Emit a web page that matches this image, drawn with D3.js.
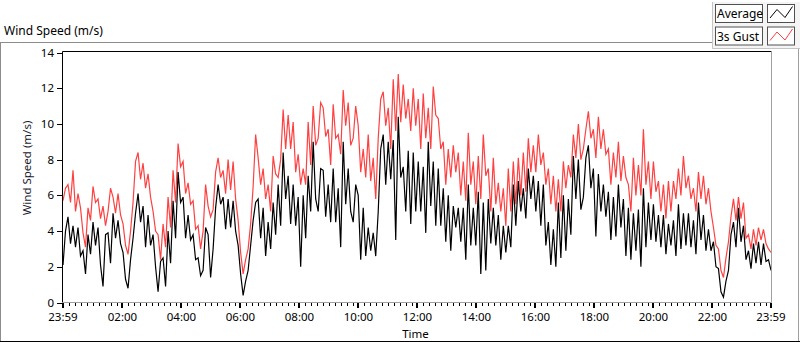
<!DOCTYPE html>
<html>
<head>
<meta charset="utf-8">
<script src="https://cdn.jsdelivr.net/npm/d3@7"></script>
<style>
body { margin: 0; background: #fff; }
text { font-family: "Noto Sans", "Liberation Sans", sans-serif; fill: #000; }
</style>
</head>
<body>
<div id="content"></div>
<script>

//data: 5 minute samples over the day
var gust = [
  5.7,6.4,6.6,5.6,7.4,5.1,6.1,5.3,3.9,3.1,5.3,4.6,6.5,5.6,5.8,4.7,5.4,4.3,5.1,6.4,5.9,5.0,6.1,4.9,
  4.4,3.2,2.7,4.0,5.6,7.9,8.4,6.9,7.8,6.4,7.2,5.9,5.1,4.0,3.8,2.4,4.4,3.1,5.9,4.2,7.4,5.6,8.9,7.6,
  7.9,6.1,6.7,5.5,5.7,4.1,4.3,3.0,4.0,6.6,5.4,4.8,5.2,7.3,8.1,7.0,7.4,6.1,8.0,6.3,7.9,5.8,4.6,2.8,
  1.6,2.4,3.0,4.4,6.5,9.4,8.1,6.6,7.5,5.8,6.6,5.1,8.2,7.2,7.0,8.0,10.8,8.6,10.5,8.6,10.1,7.3,8.3,6.6,
  7.5,6.6,10.1,7.7,11.0,8.8,9.2,11.2,10.9,9.3,9.7,7.7,11.1,9.2,9.4,8.3,11.9,9.9,11.2,8.8,9.2,11.0,9.9,7.3,
  8.6,7.0,9.4,6.8,8.1,5.8,9.2,11.4,11.8,9.9,10.9,8.6,12.5,9.6,12.8,10.1,12.2,10.3,11.4,9.6,12.0,9.9,11.4,8.6,
  11.7,9.2,10.9,8.6,12.1,10.5,10.3,8.6,9.0,6.6,8.6,7.0,8.8,7.3,8.4,6.0,7.9,5.7,9.5,6.6,7.9,5.5,8.2,5.8,
  9.4,7.1,7.5,5.1,8.1,5.5,6.7,5.1,6.4,4.3,7.5,5.1,7.9,5.5,8.1,6.0,8.4,6.2,9.2,7.3,8.8,7.3,9.4,7.7,
  8.4,6.6,7.5,5.5,7.1,5.1,6.9,5.1,7.9,6.4,7.7,7.0,9.4,8.1,10.0,8.0,8.6,9.7,10.7,9.2,9.7,8.1,10.4,8.6,
  9.7,8.3,8.6,6.6,8.4,7.0,9.0,6.8,8.2,7.0,6.6,5.1,8.1,6.0,7.7,6.0,9.7,6.6,7.9,5.8,7.9,6.2,6.8,5.1,
  6.6,4.7,6.8,5.1,6.8,5.8,7.5,6.0,8.2,6.4,7.1,5.8,6.4,5.1,7.3,5.8,7.1,5.5,6.4,5.1,4.2,3.2,3.0,1.8,
  1.4,2.5,3.4,4.8,5.8,4.6,5.9,4.7,5.6,3.6,3.8,3.0,4.1,3.2,4.2,3.5,4.1,3.3,3.0,2.8
];
var average = [
  2.1,4.0,4.8,3.3,4.3,3.1,4.2,2.6,2.9,1.6,3.8,2.7,4.5,3.2,4.2,2.1,0.9,3.8,3.9,2.2,5.0,3.6,4.6,3.3,
  2.8,1.3,0.8,2.4,3.6,5.0,6.1,4.5,5.4,3.1,4.9,3.2,3.8,2.0,0.6,2.3,2.5,0.9,4.0,2.2,5.7,3.6,7.3,5.6,
  5.9,3.6,4.9,3.5,3.8,2.4,2.5,1.5,1.8,4.2,3.8,1.4,3.0,5.3,6.6,5.5,5.9,4.1,5.8,4.2,5.7,4.0,3.2,1.6,
  0.4,1.2,1.8,3.2,4.6,5.6,5.8,3.6,5.3,2.6,4.5,3.0,5.6,3.8,6.6,4.3,8.4,5.8,7.1,4.4,6.6,4.3,5.9,2.0,
  6.0,3.6,7.1,5.1,9.0,5.8,5.1,7.5,7.4,4.8,6.6,4.5,7.5,4.5,6.4,3.1,9.0,5.5,7.5,5.1,4.5,6.6,6.0,2.4,
  5.3,2.6,4.2,2.9,3.9,2.6,5.1,8.6,9.4,6.6,9.0,6.9,9.1,3.5,10.4,7.0,7.6,5.1,8.5,4.4,8.4,5.1,7.9,5.1,
  7.6,3.9,9.0,5.4,7.9,4.3,7.5,4.3,6.4,3.4,6.0,2.9,5.4,4.2,5.3,3.4,5.3,2.4,6.6,3.2,5.3,3.2,6.2,1.6,
  5.6,1.8,5.8,3.3,5.3,3.2,4.9,2.4,4.3,2.8,4.3,3.1,6.6,4.3,6.8,5.1,6.4,4.7,7.5,5.8,7.1,5.1,6.8,4.3,
  6.6,3.2,4.5,2.1,4.1,2.0,5.6,2.5,6.0,2.9,5.8,3.8,8.2,5.8,8.0,5.2,5.9,8.1,8.8,6.4,7.5,3.7,7.2,5.1,
  6.6,4.8,6.2,3.5,5.9,3.7,6.6,4.2,5.8,2.6,5.3,2.4,5.0,2.9,5.2,2.0,6.4,3.1,5.6,3.5,5.5,3.4,4.9,3.1,
  4.9,2.7,4.4,3.2,4.6,2.6,5.5,3.0,5.0,3.2,5.0,3.1,4.6,2.7,5.6,3.5,4.9,2.9,4.1,2.9,3.4,2.0,1.9,0.6,
  0.3,1.2,1.8,3.8,4.5,3.1,5.3,3.4,4.3,2.4,2.9,1.9,3.3,2.2,3.4,2.1,3.3,2.3,2.4,1.8
];

//axis ticks, minutes after midnight (23:59 of the day before is -1)
var timeTicks = [-1, 120, 240, 360, 480, 600, 720, 840, 960, 1080, 1200, 1320, 1439];
var timeLabels = ["23:59", "02:00", "04:00", "06:00", "08:00", "10:00", "12:00",
                  "14:00", "16:00", "18:00", "20:00", "22:00", "23:59"];
var speedTicks = [0, 2, 4, 6, 8, 10, 12, 14];
var seriesNames = ["Average", "3s Gust"];
var seriesColors = ["#000000", "#ff4040"];

var width = 800, height = 342;
var plot = {left: 62.5, top: 51.5, right: 771.5, bottom: 302.5};

var svg = d3.select("#content").append("svg")
            .attr("width", width)
            .attr("height", height)
            .style("display", "block");

svg.append("rect").attr("width", width).attr("height", height).attr("fill", "#fff");

//scales
var startMin = -1, endMin = 1439;
var step = (endMin - startMin) / (gust.length - 1);
var x = d3.scaleLinear().domain([startMin, endMin]).range([63, 771]);
var y = d3.scaleLinear().domain([0, 14]).range([302.5, 52.5]);

//outer frame
svg.append("text").attr("x", 4).attr("y", 34.5)
   .style("font-size", "12px").text("Wind Speed (m/s)");
svg.append("path").attr("d", "M0 42.5 H712").attr("stroke", "#8c8c8c").attr("fill", "none");
svg.append("path").attr("d", "M0.5 42 V342").attr("stroke", "#8c8c8c").attr("fill", "none");
svg.append("path").attr("d", "M798.5 49 V342").attr("stroke", "#a0a0a0").attr("fill", "none");
svg.append("path").attr("d", "M0 341.5 H800").attr("stroke", "#000").attr("fill", "none");

//legend panel
svg.append("rect").attr("x", 712).attr("y", 2).attr("width", 88).attr("height", 47)
   .attr("fill", "#f4f4f4");
svg.append("path").attr("d", "M712.5 2 V48.5 H800").attr("stroke", "#c4c4c4").attr("fill", "none");

var legend = svg.selectAll(".legend").data(seriesNames).enter().append("g")
                .attr("class", "legend")
                .attr("transform", function(d, i){ return "translate(0," + (i * 22.5) + ")"; });
legend.append("rect").attr("x", 715.5).attr("y", 4.5).attr("width", 47).attr("height", 18)
      .attr("fill", "#fff").attr("stroke", "#505050");
legend.append("text").attr("x", 717).attr("y", 18)
      .style("font-size", "12px").text(function(d){ return d; });
legend.append("rect").attr("x", 767.5).attr("y", 4.5).attr("width", 27).attr("height", 18)
      .attr("fill", "#fff").attr("stroke", "#505050");
legend.append("path").attr("d", "M770 18 L777 9.5 L785 17.5 L792.5 6.5")
      .attr("fill", "none").attr("stroke", function(d, i){ return seriesColors[i]; });

//plot area
svg.append("rect").attr("x", plot.left).attr("y", plot.top)
   .attr("width", plot.right - plot.left).attr("height", plot.bottom - plot.top)
   .attr("fill", "#fff");

svg.append("clipPath").attr("id", "plotclip").append("rect")
   .attr("x", plot.left).attr("y", plot.top)
   .attr("width", plot.right - plot.left).attr("height", plot.bottom - plot.top);

var line = d3.line()
             .x(function(d, i){ return x(startMin + i * step); })
             .y(function(d){ return y(d); });

var lines = svg.append("g").attr("clip-path", "url(#plotclip)");
lines.append("path").datum(gust).attr("d", line)
     .attr("fill", "none").attr("stroke", seriesColors[1]).attr("stroke-width", 1.2)
     .attr("stroke-linejoin", "miter");
lines.append("path").datum(average).attr("d", line)
     .attr("fill", "none").attr("stroke", seriesColors[0]).attr("stroke-width", 1.2)
     .attr("stroke-linejoin", "miter");

//plot border, dark top/left, light bottom/right
svg.append("path").attr("d", "M" + plot.left + " " + plot.bottom + " V" + plot.top + " H" + plot.right)
   .attr("stroke", "#000").attr("fill", "none");
svg.append("path").attr("d", "M" + plot.right + " " + plot.top + " V" + plot.bottom + " H" + plot.left)
   .attr("stroke", "#a0a0a0").attr("fill", "none");

//y axis
var yTicks = svg.selectAll(".ytick").data(speedTicks).enter().append("g").attr("class", "ytick");
yTicks.append("line").attr("x1", 57).attr("x2", 62)
      .attr("y1", function(d){ return Math.round(y(d)) + 0.5; })
      .attr("y2", function(d){ return Math.round(y(d)) + 0.5; })
      .attr("stroke", "#000");
yTicks.append("text").attr("x", 54).attr("y", function(d){ return y(d); })
      .attr("dy", "0.35em").attr("text-anchor", "end")
      .style("font-size", "11.5px").text(function(d){ return d; });

svg.append("text").attr("transform", "translate(31,168) rotate(-90)")
   .attr("text-anchor", "middle").style("font-size", "11.5px").style("fill", "#1a1a30")
   .text("Wind Speed (m/s)");

//x axis, minor ticks every 12 minutes
var minorTicks = d3.range(0, 1440, 12).filter(function(m){ return m % 120 != 0; });
svg.selectAll(".xminor").data(minorTicks).enter().append("line")
   .attr("x1", function(d){ return Math.round(x(d)) + 0.5; })
   .attr("x2", function(d){ return Math.round(x(d)) + 0.5; })
   .attr("y1", 303).attr("y2", 306)
   .attr("stroke", "#000");
svg.selectAll(".xmajor").data(timeTicks).enter().append("rect")
   .attr("x", function(d){ return Math.round(x(d)) - 1; })
   .attr("y", 303).attr("width", 2).attr("height", 5)
   .attr("fill", "#000");
svg.selectAll(".xlabel").data(timeTicks).enter().append("text")
   .attr("x", function(d){ return x(d); }).attr("y", 321)
   .attr("text-anchor", "middle").style("font-size", "11.5px")
   .text(function(d, i){ return timeLabels[i]; });

svg.append("text").attr("x", 415.5).attr("y", 338)
   .attr("text-anchor", "middle").style("font-size", "11.5px").text("Time");

</script>
</body>
</html>
